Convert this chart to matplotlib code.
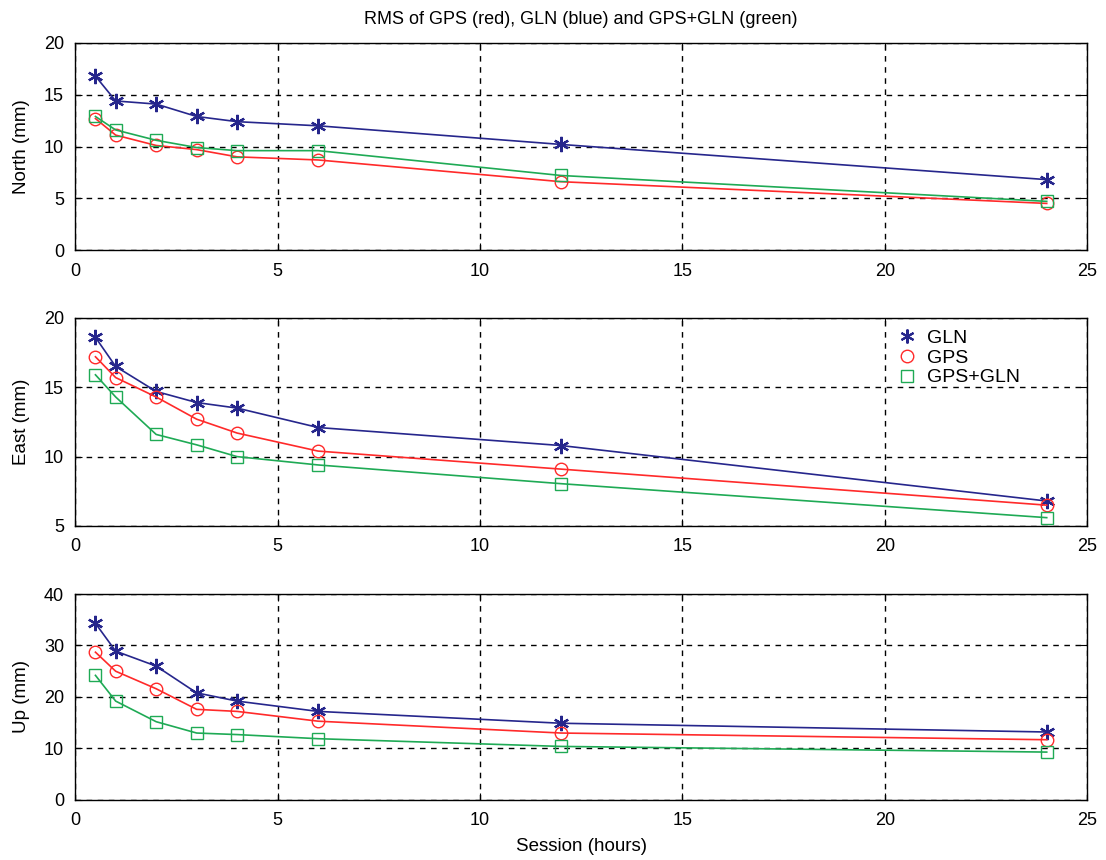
import matplotlib
matplotlib.use("Agg")
import matplotlib.pyplot as plt
from matplotlib.lines import Line2D

# session lengths (hours)
sessions = [0.5, 1, 2, 3, 4, 6, 12, 24]

# RMS values (mm)
north_gln = [16.8, 14.4, 14.1, 12.9, 12.4, 12.0, 10.2, 6.8]
north_gps = [12.7, 11.1, 10.1, 9.7, 9.0, 8.7, 6.6, 4.5]
north_both = [12.9, 11.6, 10.6, 9.9, 9.6, 9.6, 7.2, 4.7]

east_gln = [18.6, 16.5, 14.7, 13.9, 13.5, 12.1, 10.8, 6.8]
east_gps = [17.2, 15.7, 14.3, 12.7, 11.7, 10.4, 9.1, 6.5]
east_both = [15.9, 14.3, 11.6, 10.85, 10.0, 9.4, 8.05, 5.6]

up_gln = [34.3, 28.9, 26.0, 20.8, 19.2, 17.2, 14.9, 13.2]
up_gps = [28.7, 25.0, 21.6, 17.6, 17.2, 15.3, 13.0, 11.7]
up_both = [24.2, 19.2, 15.2, 13.0, 12.7, 11.9, 10.4, 9.3]

panels = [
    ("North (mm)", north_gln, north_gps, north_both, (0, 20), [0, 5, 10, 15, 20]),
    ("East (mm)", east_gln, east_gps, east_both, (5, 20), [5, 10, 15, 20]),
    ("Up (mm)", up_gln, up_gps, up_both, (0, 40), [0, 10, 20, 30, 40]),
]

C_GLN = "#26268c"
C_GPS = "#ff2a2a"
C_BOTH = "#1faa55"
STAR = (6, 2, 0)  # asterisk-like marker

plt.rcParams["font.family"] = ["Liberation Sans", "DejaVu Sans"]

fig = plt.figure(figsize=(11.06, 8.6), dpi=100)
boxes = [
    [0.068, 0.7093, 0.915, 0.2407],
    [0.068, 0.3884, 0.915, 0.2419],
    [0.068, 0.0698, 0.915, 0.2395],
]

axes = []
for box, (ylab, gln, gps, both, ylim, yticks) in zip(boxes, panels):
    ax = fig.add_axes(box)
    ax.plot(sessions, gln, color=C_GLN, lw=1.2, marker=STAR, ms=11, mew=1.6,
            mec=C_GLN, mfc=C_GLN)
    ax.plot(sessions, gps, color=C_GPS, lw=1.2, marker="o", ms=9, mec=C_GPS, mfc="none")
    ax.plot(sessions, both, color=C_BOTH, lw=1.2, marker="s", ms=9, mec=C_BOTH, mfc="none")
    ax.set_xlim(0, 25)
    ax.set_ylim(*ylim)
    ax.set_xticks([0, 5, 10, 15, 20, 25])
    ax.set_yticks(yticks)
    ax.grid(True, color="black", ls=(0, (4, 4)), lw=1.0)
    ax.tick_params(direction="in", top=True, right=True, labelsize=13, length=5)
    ax.tick_params(axis="x", pad=9)
    ax.tick_params(axis="y", pad=8)
    ax.set_ylabel(ylab, fontsize=13.5, labelpad=10)
    for sp in ax.spines.values():
        sp.set_linewidth(1.0)
    axes.append(ax)

axes[0].set_title("RMS of GPS (red), GLN (blue) and GPS+GLN (green)", fontsize=13, pad=14)
axes[2].set_xlabel("Session (hours)", fontsize=13.5, labelpad=6)

handles = [
    Line2D([], [], ls="none", marker=STAR, ms=10, mew=1.5, color=C_GLN),
    Line2D([], [], ls="none", marker="o", ms=9, mec=C_GPS, mfc="none"),
    Line2D([], [], ls="none", marker="s", ms=9, mec=C_BOTH, mfc="none"),
]
axes[1].legend(handles, ["GLN", "GPS", "GPS+GLN"], loc="upper right",
               bbox_to_anchor=(0.945, 1.0), frameon=False, fontsize=14,
               handlelength=1.0, handletextpad=0.5, labelspacing=0.1,
               borderaxespad=0.2)

fig.savefig("out.png", dpi=100)
